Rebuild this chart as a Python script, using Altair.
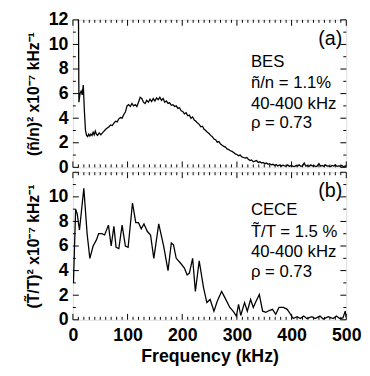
import altair as alt
import pandas as pd

# ---------------- data ----------------
bes_freq = [10, 11, 13, 15, 17, 19, 21, 23, 25, 27, 29, 31, 33, 35, 37, 39, 41, 43, 45, 48,
            51, 54, 57, 60, 63, 66, 69, 72, 75, 78, 81, 84, 87, 90, 93, 96, 99, 102, 105, 108,
            111, 114, 117, 120, 123, 126, 129, 132, 135, 138, 141, 144, 147, 150, 153, 156, 159, 162, 165, 168,
            171, 174, 177, 180, 183, 186, 189, 192, 195, 198, 201, 204, 207, 210, 213, 216, 219, 222, 225, 228,
            231, 234, 237, 240, 243, 246, 249, 252, 255, 258, 261, 264, 267, 270, 273, 276, 279, 282, 285, 288,
            291, 294, 297, 300, 303, 306, 309, 312, 315, 318, 321, 324, 327, 330, 333, 336, 339, 342, 345, 348,
            351, 354, 357, 360, 363, 366, 369, 372, 375, 378, 381, 384, 387, 390, 393, 396, 399, 402, 405, 408,
            411, 414, 417, 420, 423, 426, 429, 432, 435, 438, 441, 444, 447, 450, 453, 456, 459, 462, 465, 468,
            471, 474, 477, 480, 483, 486, 489, 492, 495, 498, 500]
bes_power = [14.0, 5.3, 6.0, 6.2, 5.9, 6.7, 4.6, 3.0, 2.6, 2.5, 2.7, 2.55, 2.7, 2.6, 2.85, 2.65, 2.95, 2.7, 2.6, 2.8,
             2.65, 2.8, 2.95, 3.1, 3.2, 3.3, 3.45, 3.4, 3.6, 3.75, 3.7, 3.95, 4.05, 4.0, 4.3, 4.5, 5.0, 5.1, 4.95, 5.2,
             5.0, 5.1, 4.95, 5.3, 5.7, 5.6, 5.3, 5.2, 5.45, 5.3, 5.55, 5.35, 5.6, 5.4, 5.65, 5.5, 5.7, 5.45, 5.6, 5.3,
             5.4, 5.2, 5.25, 5.05, 5.1, 4.95, 5.0, 4.8, 4.85, 4.6, 4.55, 4.35, 4.45, 4.2, 4.25, 4.0, 4.1, 3.85, 3.75, 3.6,
             3.5, 3.3, 3.35, 3.1, 3.0, 2.85, 2.75, 2.6, 2.5, 2.3, 2.25, 2.05, 2.1, 1.9, 1.8, 1.7, 1.65, 1.5, 1.45, 1.35,
             1.3, 1.2, 1.1, 1.05, 0.95, 1.0, 0.85, 0.8, 0.75, 0.8, 0.65, 0.55, 0.6, 0.45, 0.5, 0.55, 0.4, 0.45, 0.35, 0.4,
             0.3, 0.35, 0.25, 0.3, 0.2, 0.25, 0.15, 0.22, 0.12, 0.2, 0.1, 0.18, 0.12, 0.1, 0.2, 0.08, 0.15, 0.1, 0.05, 0.15,
             0.1, 0.2, 0.08, 0.12, 0.35, 0.1, 0.15, 0.08, 0.2, 0.1, 0.15, 0.05, 0.12, 0.3, 0.1, 0.15, 0.08, 0.2, 0.1, 0.12,
             0.05, 0.15, 0.1, 0.2, 0.08, 0.12, 0.1, 0.15, 0.05, 0.12, 0.1]

cece_freq = [1, 5, 8, 12, 20, 26, 31, 37, 43, 47, 53, 58, 65, 70, 75, 79, 84, 90, 96, 101,
             109, 115, 120, 125, 130, 136, 142, 148, 157, 166, 174, 180, 184, 189, 197, 204, 209, 213, 219, 224,
             231, 239, 245, 251, 258, 264, 272, 278, 287, 293, 299, 303, 307, 314, 319, 325, 330, 335, 341, 347,
             353, 359, 365, 371, 377, 385, 392, 398, 403, 410, 416, 422, 428, 437, 443, 452, 458, 467, 476, 482,
             488, 494, 498, 500]
cece_power = [3.0, 9.0, 8.6, 7.3, 10.7, 7.0, 5.0, 6.0, 6.5, 7.0, 7.0, 6.9, 7.7, 6.0, 7.6, 5.9, 5.8, 7.7, 6.0, 5.9,
              9.5, 7.9, 7.9, 7.4, 7.8, 7.2, 6.9, 5.0, 7.8, 6.0, 4.0, 6.25, 6.1, 5.0, 4.6, 4.2, 3.65, 3.8, 5.0, 2.3,
              4.8, 2.6, 1.4, 1.65, 0.7, 1.5, 2.3, 1.8, 1.0, 0.7, 0.3, 1.25, 0.35, 1.4, 0.7, 1.65, 1.0, 1.5, 2.05, 0.7,
              0.6, 0.75, 0.85, 0.45, 1.0, 1.0, 0.85, 0.45, 0.1, 0.25, 0.1, 0.3, 0.1, 0.25, 0.1, 0.3, 0.05, 0.25, 0.1, 0.3,
              0.1, 0.15, 0.7, 0.2]

x_labels = [0, 100, 200, 300, 400, 500]
y_labels_top = [0, 2, 4, 6, 8, 10, 12]
y_labels_bottom = [0, 2, 4, 6, 8, 10]
notes_a = ["BES", "ñ/n = 1.1%", "40-400 kHz", "ρ = 0.73"]
notes_b = ["CECE", "T̃/T = 1.5 %", "40-400 kHz", "ρ = 0.73"]
tag_a = "(a)"
tag_b = "(b)"
title_a = "(ñ/n)² x10⁻⁷ kHz⁻¹"
title_b = "(T̃/T)² x10⁻⁷ kHz⁻¹"
x_title = "Frequency (kHz)"

# ---------------- styling ----------------
W, H = 278, 150
FONT = "Liberation Sans"
MAJ, MIN = 6, 3

x_minor = [v for v in range(0, 501, 10) if v % 100 != 0]
y_minor = [v for v in range(0, 13) if v % 2 == 1]
y_major = [0, 2, 4, 6, 8, 10, 12]


def panel(freq, power, ylabels, ytitle, tag, notes, note_ys, tag_y, show_x):
    xscale = alt.Scale(domain=[0, 500], nice=False, zero=False)
    yscale = alt.Scale(domain=[0, 12], nice=False)
    if show_x:
        xaxis = alt.Axis(values=x_labels, labelFlush=False, ticks=False, domain=False, grid=False,
                         title=x_title, labelFontSize=18, labelFont=FONT, labelFontWeight="bold",
                         titleFontSize=18, titleFont=FONT, titleFontWeight="bold",
                         labelPadding=7, titlePadding=3, labelColor="black", titleColor="black",
                         format="d")
    else:
        xaxis = None
    yaxis = alt.Axis(values=ylabels, ticks=False, domain=False, grid=False, title=ytitle,
                     labelFontSize=18, labelFont=FONT, labelFontWeight="bold",
                     titleFontSize=16, titleFont=FONT, titleFontWeight="bold",
                     labelPadding=5, titlePadding=7, labelColor="black", titleColor="black",
                     labelFlush=False, format="d")
    xenc = alt.X("f:Q", scale=xscale, axis=xaxis)
    yenc = alt.Y("p:Q", scale=yscale, axis=yaxis)

    df = pd.DataFrame({"f": freq, "p": power})
    line = alt.Chart(df).mark_line(color="black", strokeWidth=1.3, clip=True).encode(x=xenc, y=yenc)

    layers = [line]
    for vals, L in ((x_minor, MIN), (x_labels, MAJ)):
        tdf = pd.DataFrame({"f": vals})
        layers.append(alt.Chart(tdf).mark_rule(color="black", strokeWidth=1).encode(
            x=xenc, y=alt.value(H), y2=alt.value(H - L)))
        layers.append(alt.Chart(tdf).mark_rule(color="black", strokeWidth=1).encode(
            x=xenc, y=alt.value(0), y2=alt.value(L)))
    for vals, L in ((y_minor, MIN), (y_major, MAJ)):
        tdf = pd.DataFrame({"p": vals})
        layers.append(alt.Chart(tdf).mark_rule(color="black", strokeWidth=1).encode(
            y=yenc, x=alt.value(0), x2=alt.value(L)))
        layers.append(alt.Chart(tdf).mark_rule(color="black", strokeWidth=1).encode(
            y=yenc, x=alt.value(W), x2=alt.value(W - L)))

    layers.append(alt.Chart(pd.DataFrame({"t": [tag]})).mark_text(
        align="right", baseline="alphabetic", font=FONT, fontSize=20, color="black").encode(
        text="t:N", x=alt.value(274), y=alt.value(tag_y)))
    for s, yy in zip(notes, note_ys):
        layers.append(alt.Chart(pd.DataFrame({"t": [s]})).mark_text(
            align="left", baseline="alphabetic", font=FONT, fontSize=17, color="black").encode(
            text="t:N", x=alt.value(181), y=alt.value(yy)))

    return alt.layer(*layers).properties(width=W, height=H)


top = panel(bes_freq, bes_power, y_labels_top, title_a, tag_a, notes_a, [48, 69, 91, 110], 26, False)
bottom = panel(cece_freq, cece_power, y_labels_bottom, title_b, tag_b, notes_b, [43, 66, 86, 106], 25, True)

chart = alt.vconcat(top, bottom, spacing=5, bounds="flush").properties(
    padding={"left": 17, "top": -1, "right": 0, "bottom": 0}
).configure_view(stroke="black", strokeWidth=1.2).configure(background="white")

chart.save("out.html", embed_options={"renderer": "svg", "actions": False})
